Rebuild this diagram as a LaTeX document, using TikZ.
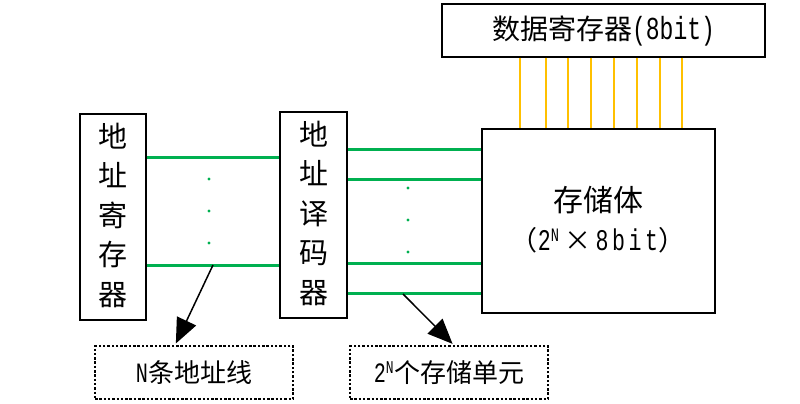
\documentclass[tikz,border=0pt]{standalone}
\usepackage{fontspec}
\setmainfont{Noto Sans CJK SC}
\newfontfamily\lat[FakeStretch=0.72]{Liberation Mono}
\newfontfamily\latw[FakeStretch=0.72,LetterSpace=12]{Liberation Mono}
\usetikzlibrary{arrows.meta}
\definecolor{lgreen}{HTML}{00B050}
\definecolor{lgold}{HTML}{FFC000}
\newcommand{\ltx}[2]{{\fontsize{#1}{#1}\lat #2}}
\newcommand{\ltw}[2]{{\fontsize{#1}{#1}\latw #2}}
\begin{document}
\begin{tikzpicture}[x=1pt,y=-1pt,
  box/.style={draw=black,line width=1.4pt,fill=white,inner sep=0pt,anchor=center},
  dbox/.style={draw=black,line width=1.4pt,dash pattern=on 2.5pt off 1.8pt,inner sep=0pt,anchor=center},
  gline/.style={draw=lgreen,line width=3pt},
  yline/.style={draw=lgold,line width=2.2pt},
  gdot/.style={fill=lgreen,draw=none},
  arr/.style={draw=black,line width=1.5pt,-{Triangle[length=25pt,width=21pt]},shorten >=2pt},
  vtext/.style={align=center,font=\fontsize{29}{39.5}\selectfont}
]
\useasboundingbox (0,0) rectangle (800,404);
% boxes
\node[box,minimum width=323pt,minimum height=53pt,font=\fontsize{28}{30}\selectfont] (dreg) at (603.5,30.5) {数据寄存器\ltx{32}{(8bit)}};
\node[box,minimum width=233pt,minimum height=184pt] (mem) at (598.5,221) {};
\node[font=\fontsize{30}{32}\selectfont] (memt1) at (598,200) {存储体};
\node[font=\fontsize{27}{30}\selectfont] (memt2) at (598,240) {（\ltx{30}{2}\textsuperscript{\ltx{19}{N}}\,×\,\ltw{30}{8bit}）};
\node[box,minimum width=66pt,minimum height=206pt] (areg) at (113,217) {};
\node[vtext] (aregt) at (113,215) {地\\址\\寄\\存\\器};
\node[box,minimum width=67pt,minimum height=206pt] (dec) at (313.5,215) {};
\node[vtext] (dect) at (313.5,213) {地\\址\\译\\码\\器};
\node[dbox,minimum width=198pt,minimum height=53pt,font=\fontsize{26}{28}\selectfont] (lab1) at (194,372.5) {\ltx{28}{N}条地址线};
\node[dbox,minimum width=198pt,minimum height=53pt,font=\fontsize{26}{28}\selectfont] (lab2) at (449,372.5) {\ltx{28}{2}\textsuperscript{\ltx{18}{N}}个存储单元};
% yellow data lines
\foreach \x in {520,546,568,591,614,637,660,682}
  \draw[yline] (\x,0 |- dreg.south) -- (\x,0 |- mem.north);
% green lines left
\foreach \y in {157,265}
  \draw[gline] (areg.east |- 0,\y) -- (dec.west |- 0,\y);
\foreach \y in {179,211,243}
  \fill[gdot] (209,\y) circle (1.6);
% green lines right
\foreach \y in {149,179,263,293}
  \draw[gline] (dec.east |- 0,\y) -- (mem.west |- 0,\y);
\foreach \y in {188,220,252}
  \fill[gdot] (408,\y) circle (1.6);
% arrows
\coordinate (s1) at (213,265);
\coordinate (s2) at (403,294);
\draw[arr] (s1) -- (175,0 |- lab1.north);
\draw[arr] (s2) -- (454,0 |- lab2.north);
\end{tikzpicture}
\end{document}
